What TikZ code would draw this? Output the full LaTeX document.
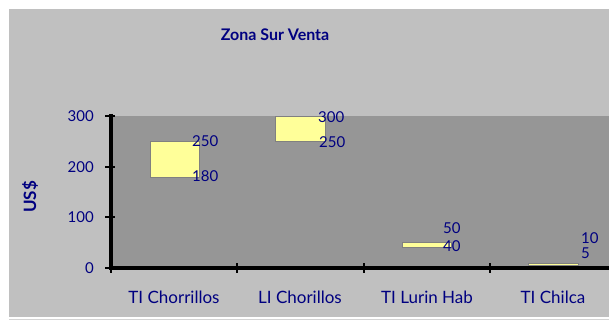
\documentclass[tikz,border=0pt]{standalone}
\usepackage{fontspec}
\setmainfont{Lato}
\definecolor{navy}{HTML}{000080}
\definecolor{bgray}{HTML}{C0C0C0}
\definecolor{pgray}{HTML}{969696}
\definecolor{barfill}{HTML}{FFFF99}
\tikzset{
  lbl/.style={text=navy, font=\fontsize{15}{15}\selectfont, inner sep=0pt},
  catlbl/.style={text=navy, font=\fontsize{17}{17}\selectfont, inner sep=0pt},
  vlbl/.style={lbl, anchor=west},
  bar/.style={fill=barfill, draw=gray, line width=0.8pt},
  axisline/.style={line width=3.4pt, black},
  tick/.style={line width=2pt, black}
}
\begin{document}
\begin{tikzpicture}[x=1pt,y=-1pt]
\useasboundingbox (0,0) rectangle (609,320);
\fill[white] (0,0) rectangle (609,320);
\fill[bgray] (9,9) rectangle (609,317);
\draw[bgray!70, line width=1pt] (9,319) -- (609,319);
\fill[pgray] (111,116) rectangle (609,268);
\node[text=navy, inner sep=0pt, font=\fontsize{16}{16}\selectfont\bfseries] (title) at (275,35) {Zona Sur Venta};
\node[text=navy, inner sep=0pt, font=\fontsize{17}{17}\selectfont\bfseries, rotate=90] (ylab) at (30,197) {US\$};
% axes
\coordinate (o) at (111,268);
\coordinate (top) at (111,114);
\coordinate (xe) at (609,268);
\draw[axisline] (top) -- (o) -- (xe);
% y ticks
\foreach \y/\v in {116/300,167/200,217/100,268/0}{
  \draw[tick] (105,\y) -- (115,\y);
  \node[lbl, anchor=east] at (94,\y) {\v};
}
% x ticks
\foreach \x in {111,237,364,490}{
  \draw[tick] (\x,263) -- (\x,273);
}
% bars
\draw[bar] (150,141.5) rectangle (199,177);
\draw[bar] (275,116) rectangle (325,141.5);
\draw[bar] (402,242.7) rectangle (451,247.8);
\draw[bar] (528,263) rectangle (578,265.5);
% value labels
\node[vlbl] (a1) at (192,141) {250};
\node[vlbl] (a2) at (192,176) {180};
\node[vlbl] (b1) at (318,117) {300};
\node[vlbl] (b2) at (319,142) {250};
\node[vlbl] (c1) at (443,228) {50};
\node[vlbl] (c2) at (443,246) {40};
\node[vlbl] (d1) at (581,238) {10};
\node[vlbl] (d2) at (581,253) {5};
% category labels
\node[catlbl] (k1) at (174,297) {TI Chorrillos};
\node[catlbl] (k2) at (300,297) {LI Chorillos};
\node[catlbl] (k3) at (427,297) {TI Lurin Hab};
\node[catlbl] (k4) at (553,297) {TI Chilca};
\end{tikzpicture}
\end{document}
